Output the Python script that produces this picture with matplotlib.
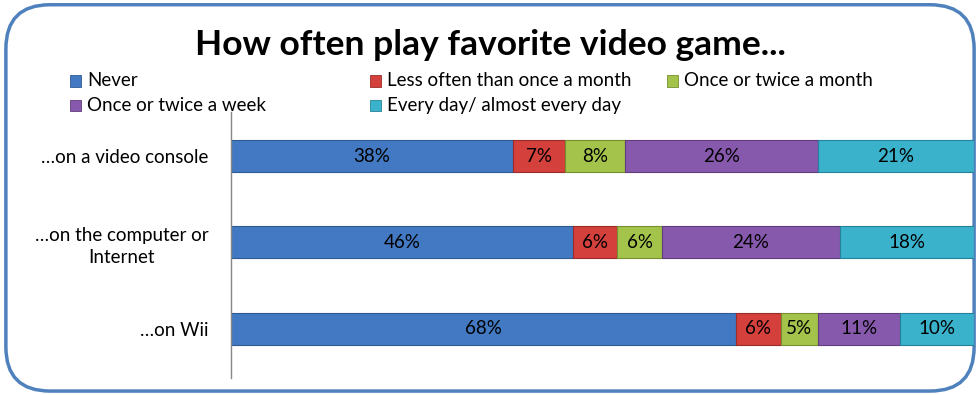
import matplotlib.pyplot as plt
from matplotlib.patches import FancyBboxPatch, Rectangle

plt.rcParams['font.family'] = ['Lato', 'DejaVu Sans']

# survey: how often kids play their favorite video game, by platform
platforms = ['…on a video console', '…on the computer or\nInternet', '…on Wii']
answers = ['Never', 'Less often than once a month', 'Once or twice a month',
           'Once or twice a week', 'Every day/ almost every day']

never = [38, 46, 68]
less_than_monthly = [7, 6, 6]
monthly = [8, 6, 5]
weekly = [26, 24, 11]
daily = [21, 18, 10]

colors = ['#4279C2', '#D4403C', '#A3C34B', '#8759AC', '#3AB2CC']
edges = ['#2E5A94', '#9A2C29', '#76902F', '#5F3D7C', '#24829A']

fig = plt.figure(figsize=(9.8, 3.95), dpi=100)

# rounded blue frame around the whole chart
frame = FancyBboxPatch((0.006, 0.01), 0.988, 0.978, boxstyle='round,pad=0,rounding_size=0.045',
                       transform=fig.transFigure, facecolor='white', edgecolor='#4F81BD',
                       linewidth=2.5, mutation_aspect=980 / 395, zorder=-5)
fig.patches.append(frame)

ax = fig.add_axes([0.2357, 0.043, 0.758, 0.6734])
ax.patch.set_alpha(0)
ax.set_zorder(2)

series = [never, less_than_monthly, monthly, weekly, daily]
ypos = list(range(len(platforms)))
left = [0] * len(platforms)
for vals, c, ec in zip(series, colors, edges):
    bars = ax.barh(ypos, vals, left=left, height=0.37, color=c, edgecolor=ec, linewidth=0.8)
    for b, v in zip(bars, vals):
        ax.text(b.get_x() + b.get_width() / 2, b.get_y() + b.get_height() / 2, f'{v}%',
                ha='center', va='center', fontsize=13.5, color='black')
    left = [l + v for l, v in zip(left, vals)]

ax.set_xlim(0, 100)
ax.set_ylim(2.57, -0.51)
ax.set_yticks(ypos)
ax.set_yticklabels(platforms, fontsize=13.5, multialignment='center', linespacing=1.35)
ax.tick_params(axis='y', length=0, pad=16)
ax.set_xticks([])
for s in ['top', 'right', 'bottom']:
    ax.spines[s].set_visible(False)
ax.spines['left'].set_color('#888888')
ax.spines['left'].set_linewidth(1)

fig.text(0.5, 0.886, 'How often play favorite video game...', ha='center', va='center',
         fontsize=25.5, fontweight='bold')

# legend laid out like the original: three columns, two rows
legend_slots = [(0.0714, 0.795), (0.3776, 0.795), (0.6806, 0.795), (0.0714, 0.734), (0.3776, 0.734)]
for (x, y), lab, c, ec in zip(legend_slots, answers, colors, edges):
    fig.patches.append(Rectangle((x, y - 0.014), 0.0112, 0.028, transform=fig.transFigure,
                                 facecolor=c, edgecolor=ec, linewidth=0.6))
    fig.text(x + 0.0175, y, lab, ha='left', va='center', fontsize=13.5)

fig.savefig('out.png', dpi=100)
